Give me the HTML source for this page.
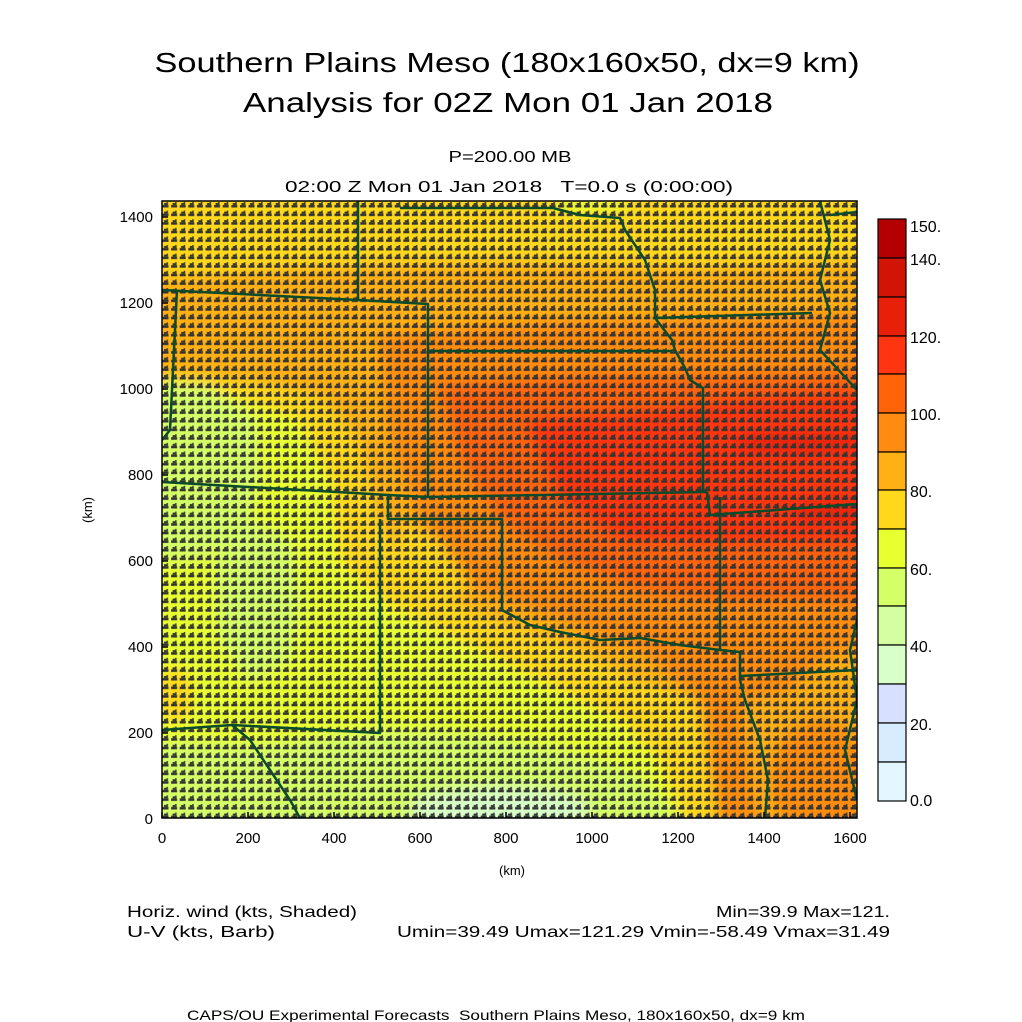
<!DOCTYPE html>
<html><head><meta charset="utf-8"><style>
html,body{margin:0;padding:0;background:#fff}
svg{display:block}
text{font-family:"Liberation Sans",sans-serif;fill:#000}
</style></head><body>
<svg width="1022" height="1022" viewBox="0 0 1022 1022" xmlns="http://www.w3.org/2000/svg">
<defs>
<filter id="bl" x="-20%" y="-20%" width="140%" height="140%"><feGaussianBlur stdDeviation="7"/></filter>
<clipPath id="pc"><rect x="162" y="201" width="695" height="617"/></clipPath>
<pattern id="barb" x="162" y="201" width="8.6" height="8.6" patternUnits="userSpaceOnUse">
<rect x="0.5" y="4" width="6" height="2.5" fill="#333"/>
<rect x="2" y="2" width="4" height="2" fill="#333"/>
<rect x="4.5" y="1" width="1.5" height="1" fill="#333"/>
</pattern>
</defs>
<text x="507" y="72" font-size="28" text-anchor="middle" textLength="705" lengthAdjust="spacingAndGlyphs">Southern Plains Meso (180x160x50, dx=9 km)</text>
<text x="508" y="112" font-size="28" text-anchor="middle" textLength="530" lengthAdjust="spacingAndGlyphs">Analysis for 02Z Mon 01 Jan 2018</text>
<text x="510" y="162" font-size="16" text-anchor="middle" textLength="123" lengthAdjust="spacingAndGlyphs">P=200.00 MB</text>
<text x="509" y="192" font-size="16" text-anchor="middle" textLength="448" lengthAdjust="spacingAndGlyphs" xml:space="preserve">02:00 Z Mon 01 Jan 2018   T=0.0 s (0:00:00)</text>

<g clip-path="url(#pc)">
<rect x="162" y="201" width="695" height="617" fill="#ffb014"/>
<g filter="url(#bl)">
<path d="M140,180 L880,180 L880,260 L700,268 L500,262 L300,268 L140,280 Z" fill="#ffd81c"/>
<ellipse cx="590" cy="205" rx="40" ry="8" fill="#e8ff30"/>
<path d="M140,370 L250,380 L320,395 L360,440 L380,520 L420,580 L470,610 L560,640 L640,680 L700,700 L720,760 L740,840 L140,840 Z" fill="#ffd81c"/>
<path d="M140,390 L230,395 L300,420 L330,480 L340,560 L380,600 L460,640 L540,680 L620,720 L660,760 L690,840 L140,840 Z" fill="#e8ff30"/>
<path d="M140,380 L210,385 L255,420 L260,480 L240,540 L200,560 L140,560 Z" fill="#d4ff66"/>
<path d="M215,560 L250,520 L290,540 L300,600 L290,660 L250,680 L220,640 Z" fill="#d4ff66"/>
<path d="M140,740 L260,745 L380,730 L480,735 L560,750 L640,775 L680,820 L140,840 Z" fill="#d4ff66"/>
<ellipse cx="500" cy="810" rx="90" ry="22" fill="#d8ffc8"/>
<ellipse cx="175" cy="695" rx="18" ry="28" fill="#ffd81c"/>
<path d="M380,335 L560,320 L760,318 L880,310 L880,640 L820,660 L780,700 L760,840 L720,840 L700,700 L640,650 L560,620 L480,590 L420,520 L390,440 Z" fill="#ff8c10"/>
<path d="M440,385 L600,375 L760,375 L880,370 L880,600 L800,600 L720,600 L640,590 L560,560 L500,520 L460,460 Z" fill="#ff6408"/>
<path d="M525,420 L640,410 L760,395 L880,390 L880,545 L780,545 L700,545 L620,540 L560,500 Z" fill="#ff3410"/>
<ellipse cx="800" cy="443" rx="70" ry="10" fill="#e8200a"/>
<ellipse cx="830" cy="512" rx="40" ry="10" fill="#e8200a"/>
<path d="M400,520 L440,540 L470,590 L440,600 L400,590 Z" fill="#ffd81c"/>
<path d="M740,700 L800,690 L880,680 L880,840 L760,840 Z" fill="#ffb014"/>
<ellipse cx="820" cy="780" rx="50" ry="60" fill="#ff8c10"/>
</g>
<rect x="162" y="201" width="695" height="617" fill="url(#barb)"/>
<g fill="none" stroke="#0b4a2a" stroke-width="2.5" stroke-linejoin="round">
<polyline points="162,290 358,300 428,304 428,497"/>
<polyline points="358,201 358,300"/>
<polyline points="177,290 170,430 162,440"/>
<polyline points="428,351 672,351"/>
<polyline points="655,318 812,313"/>
<polyline points="400,208 553,208 580,215 620,218 625,230 645,260 655,290 655,318 672,340 675,350 685,368 690,380 703,388 703,492"/>
<polyline points="162,482 388,495 428,497 707,492"/>
<polyline points="707,492 710,515 857,504"/>
<polyline points="388,495 388,519 502,519 502,610 515,617 530,625 560,632 600,640 640,638 680,645 720,650 740,652 740,680 745,700 760,740 768,780 765,818"/>
<polyline points="720,497 720,650"/>
<polyline points="740,676 857,670"/>
<polyline points="380,519 380,733 232,725 162,730"/>
<polyline points="232,725 250,740 270,770 290,800 300,818"/>
<polyline points="820,201 830,240 820,280 830,313 820,350 857,390"/>
<polyline points="830,215 857,212"/>
<polyline points="857,620 850,650 857,700 845,750 857,800"/>
</g>
</g>
<rect x="162" y="201" width="695" height="617" fill="none" stroke="#000" stroke-width="1.5"/>
<g stroke="#000" stroke-width="1.5">
<line x1="162" y1="818" x2="162" y2="812"/><line x1="248" y1="818" x2="248" y2="812"/><line x1="334" y1="818" x2="334" y2="812"/><line x1="420" y1="818" x2="420" y2="812"/><line x1="506" y1="818" x2="506" y2="812"/><line x1="592" y1="818" x2="592" y2="812"/><line x1="678" y1="818" x2="678" y2="812"/><line x1="764" y1="818" x2="764" y2="812"/><line x1="850" y1="818" x2="850" y2="812"/>
<line x1="162" y1="733" x2="168" y2="733"/><line x1="162" y1="647" x2="168" y2="647"/><line x1="162" y1="561" x2="168" y2="561"/><line x1="162" y1="475" x2="168" y2="475"/><line x1="162" y1="389" x2="168" y2="389"/><line x1="162" y1="303" x2="168" y2="303"/><line x1="162" y1="217" x2="168" y2="217"/>
</g>
<g font-size="15" text-anchor="middle">
<text x="162" y="843">0</text><text x="248" y="843">200</text><text x="334" y="843">400</text><text x="420" y="843">600</text><text x="506" y="843">800</text><text x="592" y="843">1000</text><text x="678" y="843">1200</text><text x="764" y="843">1400</text><text x="850" y="843">1600</text>
</g>
<g font-size="15" text-anchor="end">
<text x="153" y="824">0</text><text x="153" y="738">200</text><text x="153" y="652">400</text><text x="153" y="566">600</text><text x="153" y="480">800</text><text x="153" y="394">1000</text><text x="153" y="308">1200</text><text x="153" y="222">1400</text>
</g>
<text x="512" y="875" font-size="13" text-anchor="middle">(km)</text>
<text transform="translate(92,510) rotate(-90)" font-size="13" text-anchor="middle">(km)</text>

<g stroke="#000" stroke-width="1.2">
<rect x="878" y="219" width="28" height="39" fill="#b40000"/>
<rect x="878" y="258" width="28" height="39" fill="#d21404"/>
<rect x="878" y="297" width="28" height="39" fill="#e8200a"/>
<rect x="878" y="336" width="28" height="38" fill="#ff3410"/>
<rect x="878" y="374" width="28" height="39" fill="#ff6408"/>
<rect x="878" y="413" width="28" height="39" fill="#ff8c10"/>
<rect x="878" y="452" width="28" height="38" fill="#ffb014"/>
<rect x="878" y="490" width="28" height="39" fill="#ffd81c"/>
<rect x="878" y="529" width="28" height="39" fill="#e8ff30"/>
<rect x="878" y="568" width="28" height="38" fill="#d4ff66"/>
<rect x="878" y="606" width="28" height="39" fill="#d4ffa0"/>
<rect x="878" y="645" width="28" height="39" fill="#d8ffc8"/>
<rect x="878" y="684" width="28" height="39" fill="#d8e0ff"/>
<rect x="878" y="723" width="28" height="39" fill="#d8ecff"/>
<rect x="878" y="762" width="28" height="39" fill="#e4f6ff"/>
</g>
<g font-size="16">
<text x="910" y="232">150.</text><text x="910" y="265">140.</text><text x="910" y="343">120.</text><text x="910" y="420">100.</text><text x="910" y="497">80.</text><text x="910" y="575">60.</text><text x="910" y="652">40.</text><text x="910" y="730">20.</text><text x="910" y="806">0.0</text>
</g>

<g font-size="16">
<text x="127" y="917" textLength="230" lengthAdjust="spacingAndGlyphs">Horiz. wind (kts, Shaded)</text>
<text x="127" y="937" textLength="148" lengthAdjust="spacingAndGlyphs">U-V (kts, Barb)</text>
<text x="890" y="917" text-anchor="end" textLength="174" lengthAdjust="spacingAndGlyphs">Min=39.9 Max=121.</text>
<text x="890" y="937" text-anchor="end" textLength="493" lengthAdjust="spacingAndGlyphs">Umin=39.49 Umax=121.29 Vmin=-58.49 Vmax=31.49</text>
<text x="187" y="1020" font-size="14" textLength="618" lengthAdjust="spacingAndGlyphs" xml:space="preserve">CAPS/OU Experimental Forecasts  Southern Plains Meso, 180x160x50, dx=9 km</text>
</g>
</svg>
</body></html>
